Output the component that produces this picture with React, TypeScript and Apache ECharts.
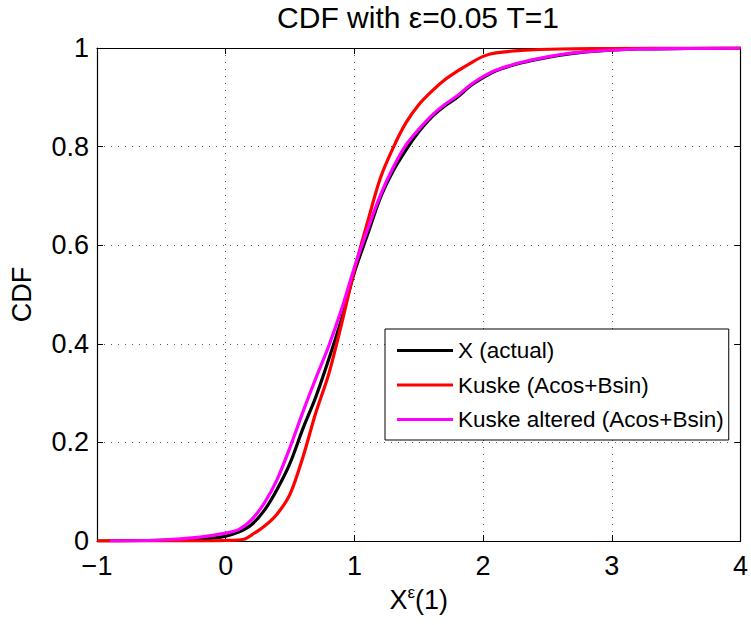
import React, { useEffect, useRef } from "react";
import * as echarts from "echarts";

const seriesNames = ["X (actual)", "Kuske (Acos+Bsin)", "Kuske altered (Acos+Bsin)"];
const seriesColors = ["#000000", "#ff0000", "#ff00ff"];

const actualX = [-1, -0.6, -0.3, -0.1, 0, 0.1, 0.2, 0.3, 0.4, 0.5, 0.6, 0.7, 0.8, 0.9, 1.0, 1.1, 1.2, 1.3, 1.4, 1.5, 1.6, 1.7, 1.8, 1.9, 2.0, 2.1, 2.3, 2.5, 2.7, 2.9, 3.2, 3.6, 4];
const actualY = [0, 0.001, 0.003, 0.006, 0.01, 0.018, 0.033, 0.062, 0.105, 0.158, 0.228, 0.292, 0.368, 0.45, 0.545, 0.62, 0.695, 0.75, 0.793, 0.83, 0.86, 0.882, 0.9, 0.923, 0.94, 0.954, 0.97, 0.981, 0.989, 0.994, 0.998, 0.999, 1];

const kuskeX = [-1, -0.2, 0, 0.1, 0.15, 0.2, 0.3, 0.4, 0.5, 0.6, 0.7, 0.8, 0.9, 1.0, 1.1, 1.2, 1.3, 1.4, 1.5, 1.6, 1.7, 1.8, 1.9, 2.0, 2.1, 2.3, 2.6, 3.0, 3.3, 4];
const kuskeY = [0, 0, 0.001, 0.002, 0.004, 0.012, 0.03, 0.055, 0.095, 0.17, 0.26, 0.338, 0.44, 0.55, 0.645, 0.735, 0.797, 0.848, 0.885, 0.912, 0.935, 0.953, 0.969, 0.983, 0.99, 0.995, 0.998, 0.999, 1, 1];

const alteredX = [-0.9, -0.5, -0.2, 0, 0.1, 0.2, 0.3, 0.4, 0.5, 0.6, 0.7, 0.8, 0.9, 1.0, 1.1, 1.2, 1.3, 1.4, 1.5, 1.6, 1.7, 1.8, 1.9, 2.0, 2.1, 2.3, 2.5, 2.7, 2.9, 3.2, 3.6, 4];
const alteredY = [0, 0.002, 0.008, 0.016, 0.023, 0.043, 0.077, 0.125, 0.19, 0.262, 0.33, 0.395, 0.47, 0.555, 0.63, 0.7, 0.757, 0.803, 0.835, 0.863, 0.885, 0.903, 0.925, 0.942, 0.955, 0.971, 0.982, 0.99, 0.994, 0.998, 0.999, 1];

const titleText = "CDF with ε=0.05 T=1";
const yAxisName = "CDF";

const FONT = "'Liberation Sans', Arial, Helvetica, sans-serif";

const pairs = (xs: number[], ys: number[]) => xs.map((x, i) => [x, ys[i]]);

export default function App() {
  const ref = useRef<HTMLDivElement>(null);
  useEffect(() => {
    if (!ref.current) return;
    const chart = echarts.init(ref.current, undefined, { renderer: "svg" });
    const dataSets = [pairs(actualX, actualY), pairs(kuskeX, kuskeY), pairs(alteredX, alteredY)];
    const gridLine = { show: true, lineStyle: { color: "#555", type: [1, 6] as any, width: 1 } };
    const tick = { show: true, inside: true, length: 6, lineStyle: { color: "#000", width: 1 } };
    const axisLine = { show: true, onZero: false, lineStyle: { color: "#000", width: 1.2 } };
    chart.setOption({
      animation: false,
      backgroundColor: "#ffffff",
      textStyle: { fontFamily: FONT },
      grid: { left: 96, right: 8, top: 48, bottom: 84, containLabel: false },
      graphic: [
        {
          type: "text",
          x: 418,
          y: 2,
          style: {
            text: titleText,
            font: `30px ${FONT}`,
            fill: "#000",
            textAlign: "center",
            textVerticalAlign: "top",
          },
        },
      ],
      legend: {
        orient: "vertical",
        left: 385,
        top: 329,
        padding: [10, 5, 9, 12],
        itemWidth: 56,
        itemHeight: 3,
        itemGap: 11.5,
        icon: "rect",
        borderColor: "#000",
        borderWidth: 1,
        backgroundColor: "#fff",
        textStyle: { fontFamily: FONT, fontSize: 22.5, lineHeight: 22, color: "#000" },
        data: seriesNames,
      },
      xAxis: [
        {
          type: "value",
          min: -1,
          max: 4,
          interval: 1,
          position: "bottom",
          name: "{a|X}{b|ε}{a|(1)}",
          nameLocation: "middle",
          nameGap: 42,
          nameTextStyle: {
            rich: {
              a: { fontFamily: FONT, fontSize: 27, color: "#000" },
              b: { fontFamily: FONT, fontSize: 17, color: "#000", padding: [0, 0, 14, 0] },
            },
          },
          axisLine,
          axisTick: tick,
          splitLine: gridLine,
          axisLabel: {
            fontFamily: FONT,
            fontSize: 27,
            lineHeight: 22,
            color: "#000",
            margin: 14,
            formatter: (v: number) => String(v).replace("-", "−"),
          },
        },
        {
          type: "value",
          min: -1,
          max: 4,
          interval: 1,
          position: "top",
          axisLine,
          axisTick: tick,
          axisLabel: { show: false },
          splitLine: { show: false },
        },
      ],
      yAxis: [
        {
          type: "value",
          min: 0,
          max: 1,
          interval: 0.2,
          position: "left",
          name: yAxisName,
          nameLocation: "middle",
          nameGap: 62,
          nameTextStyle: { fontFamily: FONT, fontSize: 27, color: "#000" },
          axisLine,
          axisTick: tick,
          splitLine: gridLine,
          axisLabel: { fontFamily: FONT, fontSize: 27, lineHeight: 20, color: "#000", margin: 8 },
        },
        {
          type: "value",
          min: 0,
          max: 1,
          interval: 0.2,
          position: "right",
          axisLine,
          axisTick: tick,
          axisLabel: { show: false },
          splitLine: { show: false },
        },
      ],
      series: seriesNames.map((name, i) => ({
        name,
        type: "line",
        xAxisIndex: 0,
        yAxisIndex: 0,
        data: dataSets[i],
        showSymbol: false,
        symbol: "none",
        smooth: 0.3,
        color: seriesColors[i],
        lineStyle: { color: seriesColors[i], width: 3.2 },
        z: 2 + i,
      })),
    });
    return () => chart.dispose();
  }, []);
  return <div ref={ref} style={{ position: "fixed", left: 0, top: 0, width: 751, height: 625 }} />;
}
